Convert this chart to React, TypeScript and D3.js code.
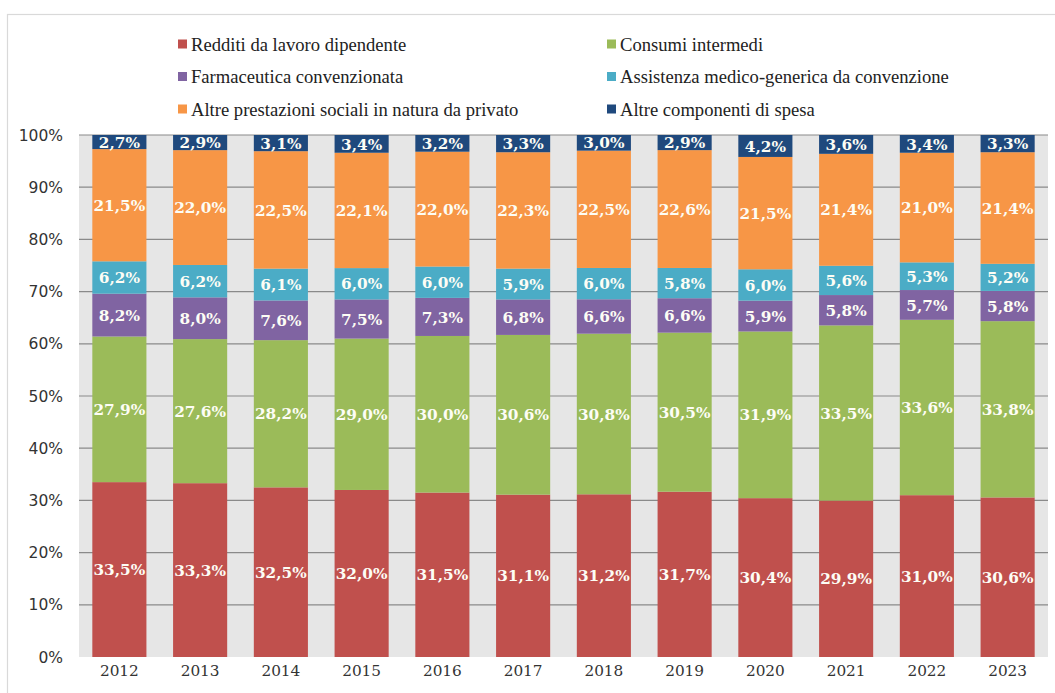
import React from "react";
import * as d3 from "d3";

const years = ["2012","2013","2014","2015","2016","2017","2018","2019","2020","2021","2022","2023"];
const seriesNames = [
  "Redditi da lavoro dipendente",
  "Consumi intermedi",
  "Farmaceutica convenzionata",
  "Assistenza medico-generica da convenzione",
  "Altre prestazioni sociali in natura da privato",
  "Altre componenti di spesa",
];
const seriesColors = ["#c0504d", "#9bbb59", "#8064a2", "#4bacc6", "#f79646", "#1f497d"];

const redditi = [33.5, 33.3, 32.5, 32.0, 31.5, 31.1, 31.2, 31.7, 30.4, 29.9, 31.0, 30.6];
const consumi = [27.9, 27.6, 28.2, 29.0, 30.0, 30.6, 30.8, 30.5, 31.9, 33.5, 33.6, 33.8];
const farmaceutica = [8.2, 8.0, 7.6, 7.5, 7.3, 6.8, 6.6, 6.6, 5.9, 5.8, 5.7, 5.8];
const assistenza = [6.2, 6.2, 6.1, 6.0, 6.0, 5.9, 6.0, 5.8, 6.0, 5.6, 5.3, 5.2];
const altrePrestazioni = [21.5, 22.0, 22.5, 22.1, 22.0, 22.3, 22.5, 22.6, 21.5, 21.4, 21.0, 21.4];
const altreComponenti = [2.7, 2.9, 3.1, 3.4, 3.2, 3.3, 3.0, 2.9, 4.2, 3.6, 3.4, 3.3];
const yTicks = [0, 10, 20, 30, 40, 50, 60, 70, 80, 90, 100];

const seriesValues = [redditi, consumi, farmaceutica, assistenza, altrePrestazioni, altreComponenti];

export default function App() {
  const W = 1055, H = 693;
  const left = 79, right = 1048, top = 135, bottom = 657;

  const rows = years.map((y, i) => {
    const r: any = { year: y };
    seriesNames.forEach((n, k) => (r[n] = seriesValues[k][i]));
    return r;
  });
  const stack = d3.stack<any>().keys(seriesNames).offset(d3.stackOffsetExpand);
  const stacked = stack(rows);

  const x = d3.scaleBand().domain(years).range([left, right]).paddingInner(0.33).paddingOuter(0.165);
  const y = d3.scaleLinear().domain([0, 1]).range([bottom, top]);
  const yPct = d3.scaleLinear().domain([0, 100]).range([bottom, top]);
  const fmt = (v: number) => v.toFixed(1).replace(".", ",") + "%";

  const legendCols = [178, 607];
  const legendRows = [44, 76.5, 109];

  return (
    <div style={{ position: "absolute", left: 0, top: 0 }}>
      <svg width={W} height={H} style={{ display: "block", background: "#fff" }}>
        <rect x={7.5} y={14.5} width={W + 10} height={H + 10} fill="none" stroke="#d9d9d9" strokeWidth={1.2} />
        <rect x={left} y={top} width={right - left} height={bottom - top} fill="#e6e6e6" />
        {yTicks.filter((t) => t > 0).map((t) => (
          <line key={t} x1={left} x2={right} y1={yPct(t)} y2={yPct(t)} stroke="#8a8a8a" strokeWidth={1.2} />
        ))}
        {yTicks.map((t) => (
          <text key={"l" + t} x={63} y={yPct(t)} dy="0.36em" textAnchor="end" fontFamily="DejaVu Sans" fontSize={15.5} fill="#333">
            {t}%
          </text>
        ))}
        {stacked.map((s, k) => (
          <g key={s.key}>
            {s.map((d, i) => (
              <rect key={i} x={x(years[i])} width={x.bandwidth()} y={y(d[1])} height={y(d[0]) - y(d[1])} fill={seriesColors[k]} />
            ))}
          </g>
        ))}
        {stacked.map((s, k) => (
          <g key={"t" + s.key}>
            {s.map((d, i) => (
              <text
                key={i}
                x={(x(years[i]) as number) + x.bandwidth() / 2}
                y={(y(d[0]) + y(d[1])) / 2}
                dy="0.37em"
                textAnchor="middle"
                fontFamily="DejaVu Serif"
                fontWeight="bold"
                fontSize={15.3}
                fill="#fdfdf5"
              >
                {fmt(seriesValues[k][i])}
              </text>
            ))}
          </g>
        ))}
        {years.map((yr) => (
          <text key={yr} x={(x(yr) as number) + x.bandwidth() / 2} y={676} textAnchor="middle" fontFamily="DejaVu Serif" fontSize={15.3} fill="#333">
            {yr}
          </text>
        ))}
        {seriesNames.map((n, k) => {
          const cx = legendCols[k % 2];
          const cy = legendRows[Math.floor(k / 2)];
          return (
            <g key={n}>
              <rect x={cx} y={cy - 4.5} width={9} height={9} fill={seriesColors[k]} />
              <text x={cx + 13} y={cy} dy="0.35em" fontFamily="Liberation Serif" fontSize={18.6} fill="#222">
                {n}
              </text>
            </g>
          );
        })}
      </svg>
    </div>
  );
}
